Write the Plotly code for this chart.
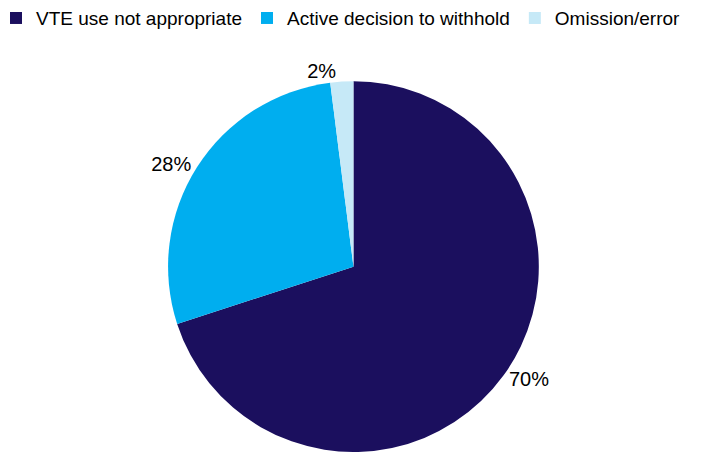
import plotly.graph_objects as go

labels = ["VTE use not appropriate", "Active decision to withhold", "Omission/error"]
values = [70, 28, 2]
colors = ["#1B0F5E", "#00AEEF", "#C6E9F7"]

fig = go.Figure(go.Pie(
    labels=labels,
    values=values,
    marker=dict(colors=colors),
    sort=False,
    direction="clockwise",
    rotation=0,
    textinfo="percent",
    texttemplate="%{percent:.0%}",
    textposition="outside",
    textfont=dict(size=20, color="#000000"),
    domain=dict(x=[0, 0.98], y=[0, 0.835]),
))

fig.update_layout(
    width=705,
    height=444,
    margin=dict(l=0, r=0, t=0, b=0, autoexpand=False),
    paper_bgcolor="white",
    font=dict(family="Liberation Sans, Arial, sans-serif", size=19, color="#000000"),
    legend=dict(
        orientation="h",
        x=-0.017, y=1.02, xanchor="left", yanchor="top",
        font=dict(size=19),
        itemwidth=30,
        tracegroupgap=0,
    ),
)

fig.write_html("out.html")
